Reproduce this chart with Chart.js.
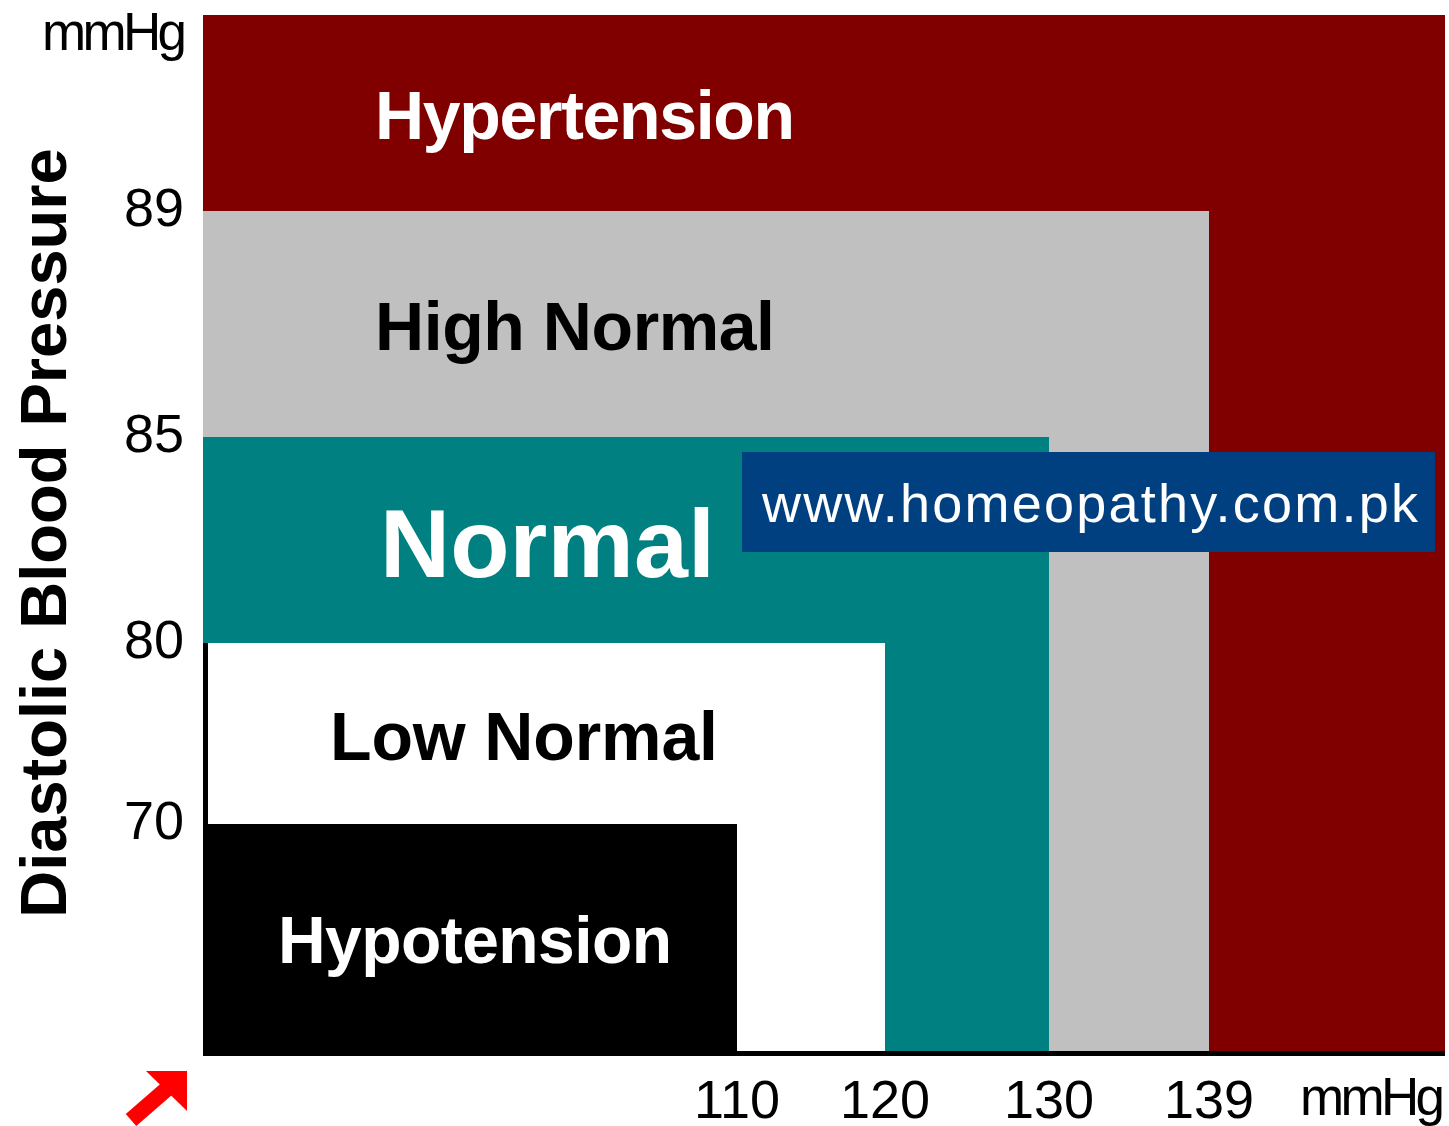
<!DOCTYPE html>
<html>
<head>
<meta charset="utf-8">
<title>Blood Pressure Chart</title>
<script src="https://cdn.jsdelivr.net/npm/chart.js@4.4.1/dist/chart.umd.min.js"></script>
<style>
  html, body { margin: 0; padding: 0; background: #fff; }
  canvas { display: block; }
</style>
</head>
<body>
<canvas id="bpChart" width="1449" height="1126"></canvas>
<script>
// zones, from the innermost box out
const zones = ['Hypotension', 'Low Normal', 'Normal', 'High Normal', 'Hypertension'];
const systolicLimits = [110, 120, 130, 139, 150];
const diastolicLimits = [70, 80, 85, 89, 95];
const systolicTicks = [110, 120, 130, 139];
const diastolicTicks = [70, 80, 85, 89];
const systolicMin = 90;
const diastolicMin = 60;

const zoneColors = ['#000000', '#ffffff', '#008080', '#c0c0c0', '#800000'];

// axis is not evenly spaced in the picture, so map values to a fraction of the axis
const xStops = [[90, 0], [110, 0.4300], [120, 0.5491], [130, 0.6812], [139, 0.8100], [150, 1]];
const yStops = [[60, 0], [70, 0.2191], [80, 0.3938], [85, 0.5927], [89, 0.8108], [95, 1]];

function lerpStops(stops, v, from, to) {
    for (let i = 1; i < stops.length; i++) {
        const a = stops[i - 1], b = stops[i];
        if (v <= b[from] || i === stops.length - 1) {
            const t = (v - a[from]) / (b[from] - a[from]);
            return a[to] + t * (b[to] - a[to]);
        }
    }
    return 0;
}

class PiecewiseScale extends Chart.LinearScale {
    static id = 'piecewise';
    static defaults = {};
    buildTicks() {
        return (this.options.tickValues || []).map(v => ({ value: v }));
    }
    getPixelForValue(value) {
        return this.getPixelForDecimal(lerpStops(this.options.stops, value, 0, 1));
    }
    getValueForPixel(pixel) {
        return lerpStops(this.options.stops, this.getDecimalForPixel(pixel), 1, 0);
    }
}
Chart.register(PiecewiseScale);

function fitText(ctx, text, x, y, width) {
    ctx.letterSpacing = '0px';
    const w = ctx.measureText(text).width;
    const gap = text.length > 1 ? (width - w) / (text.length - 1) : 0;
    ctx.letterSpacing = gap + 'px';
    ctx.fillText(text, x, y);
    ctx.letterSpacing = '0px';
}

const chartDecor = {
    id: 'chartDecor',
    afterDraw(chart, args, opts) {
        const { ctx, chartArea: a, scales: { x, y } } = chart;
        ctx.save();

        // axis lines
        ctx.fillStyle = '#000';
        ctx.fillRect(a.left, a.bottom, a.right - a.left, 5);
        const lowTop = y.getPixelForValue(diastolicLimits[1]);
        ctx.fillRect(a.left, lowTop, 5, a.bottom - lowTop + 5);

        // zone names
        ctx.textAlign = 'left';
        ctx.textBaseline = 'alphabetic';
        zones.forEach((name, i) => {
            const lab = opts.labels[i];
            const lower = i === 0 ? diastolicMin : diastolicLimits[i - 1];
            const mid = (y.getPixelForValue(lower) + y.getPixelForValue(diastolicLimits[i])) / 2;
            ctx.font = 'bold ' + lab.size + 'px "Liberation Sans", Arial, sans-serif';
            ctx.fillStyle = lab.color;
            fitText(ctx, name, a.left + lab.left, mid + lab.size * 0.716 / 2 + 2, lab.width);
        });

        // site banner
        const b = opts.banner;
        ctx.fillStyle = b.color;
        ctx.fillRect(a.left + b.left, a.top + b.top, b.w, b.h);
        ctx.fillStyle = '#fff';
        ctx.font = '54px "Liberation Sans", Arial, sans-serif';
        fitText(ctx, 'www.homeopathy.com.pk', a.left + b.left + 20, a.top + b.top + 70, 656);

        // unit labels
        ctx.fillStyle = '#000';
        ctx.font = '53px "Liberation Sans", Arial, sans-serif';
        fitText(ctx, 'mmHg', a.left - 161, a.top + 35, 145);
        fitText(ctx, 'mmHg', a.right - 145, a.bottom + 64, 145);

        // red arrow in the corner
        const ox = a.left, oy = a.bottom;
        ctx.fillStyle = '#ff0000';
        ctx.beginPath();
        ctx.moveTo(ox - 57, oy + 20);
        ctx.lineTo(ox - 16, oy + 20);
        ctx.lineTo(ox - 16, oy + 60);
        ctx.closePath();
        ctx.fill();
        ctx.strokeStyle = '#ff0000';
        ctx.lineWidth = 16;
        ctx.beginPath();
        ctx.moveTo(ox - 72, oy + 69);
        ctx.lineTo(ox - 34, oy + 36);
        ctx.stroke();

        ctx.restore();
    }
};

const datasets = zones.map((name, i) => ({
    label: name,
    data: [
        { x: systolicMin, y: diastolicLimits[i] },
        { x: systolicLimits[i], y: diastolicLimits[i] }
    ],
    backgroundColor: zoneColors[i],
    borderColor: 'transparent',
    borderWidth: 0,
    pointRadius: 0,
    fill: 'start'
}));

new Chart(document.getElementById('bpChart'), {
    type: 'line',
    data: { datasets },
    plugins: [chartDecor],
    options: {
        responsive: false,
        animation: false,
        devicePixelRatio: 1,
        layout: { padding: { top: 15, right: 4, left: 0, bottom: 0 } },
        plugins: {
            legend: { display: false },
            tooltip: { enabled: false },
            chartDecor: {
                labels: [
                    { left: 75, size: 66, width: 394, color: '#fff' },
                    { left: 127, size: 68, width: 388, color: '#000' },
                    { left: 177, size: 97, width: 335, color: '#fff' },
                    { left: 172, size: 68, width: 400, color: '#000' },
                    { left: 172, size: 68, width: 420, color: '#fff' }
                ],
                banner: { left: 539, top: 437, w: 693, h: 100, color: '#004080' }
            }
        },
        scales: {
            x: {
                type: 'piecewise',
                min: systolicMin,
                max: systolicLimits[systolicLimits.length - 1],
                stops: xStops,
                tickValues: systolicTicks,
                grid: { display: false },
                border: { display: false },
                ticks: {
                    autoSkip: false,
                    maxRotation: 0,
                    padding: 12,
                    color: '#000',
                    font: { family: '"Liberation Sans", Arial, sans-serif', size: 54 },
                    callback: v => String(v)
                },
                afterFit: s => {
                    s.height = 75;
                    s.paddingLeft = 0;
                    s.paddingRight = 0;
                }
            },
            y: {
                type: 'piecewise',
                min: diastolicMin,
                max: diastolicLimits[diastolicLimits.length - 1],
                stops: yStops,
                tickValues: diastolicTicks,
                grid: { display: false },
                border: { display: false },
                ticks: {
                    autoSkip: false,
                    padding: 11,
                    color: '#000',
                    font: { family: '"Liberation Sans", Arial, sans-serif', size: 54 },
                    callback: v => String(v)
                },
                title: {
                    display: true,
                    text: 'Diastolic Blood Pressure',
                    color: '#000',
                    font: { family: '"Liberation Sans", Arial, sans-serif', size: 65, weight: 'bold' },
                    padding: { top: 9, bottom: 0 }
                },
                afterFit: s => {
                    s.width = 203;
                    s.paddingTop = 0;
                    s.paddingBottom = 0;
                }
            }
        }
    }
});
</script>
</body>
</html>
